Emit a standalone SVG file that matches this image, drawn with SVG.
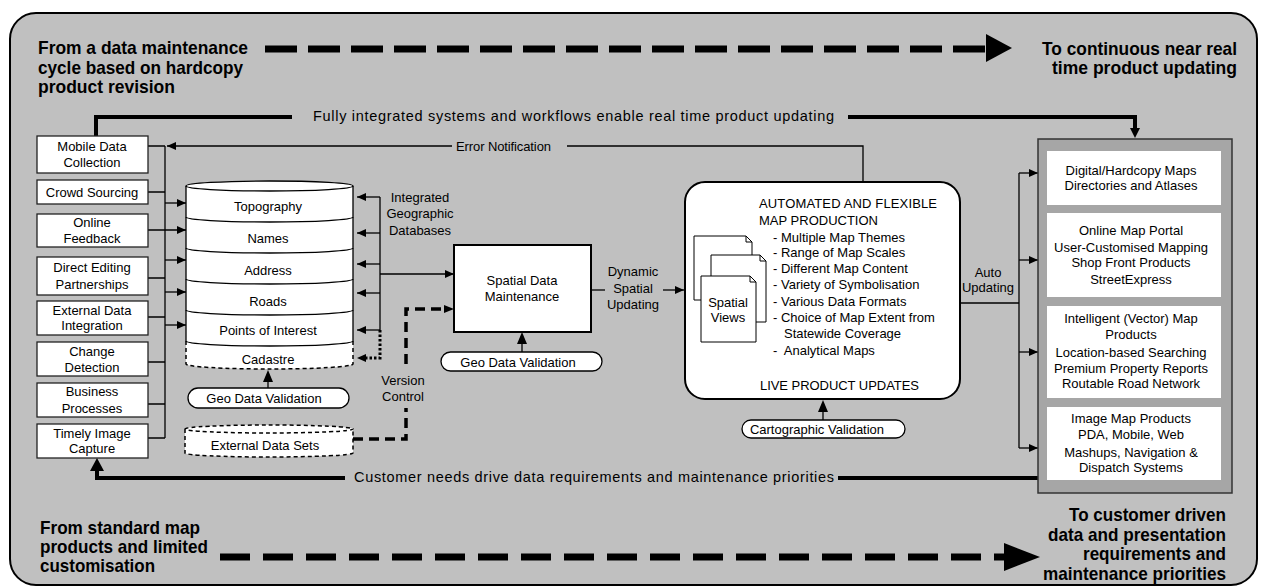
<svg xmlns="http://www.w3.org/2000/svg" width="1264" height="588" viewBox="0 0 1264 588">
<defs>
<style>
.t{font-family:"Liberation Sans",Arial,sans-serif;font-size:13px;fill:#000;text-anchor:middle}
.ts{font-family:"Liberation Sans",Arial,sans-serif;font-size:13px;fill:#000}
.tl{font-family:"Liberation Sans",Arial,sans-serif;font-size:14.5px;fill:#000}
.h{font-family:"Liberation Sans",Arial,sans-serif;font-size:18.5px;font-weight:bold;fill:#000}
.box{fill:#fff;stroke:#222;stroke-width:1.3}
.ln{fill:none;stroke:#000;stroke-width:1.3}
.thick{fill:none;stroke:#000;stroke-width:4}
.dash{fill:none;stroke:#000;stroke-width:3.5;stroke-dasharray:10 6}
.dot{fill:none;stroke:#000;stroke-width:3;stroke-dasharray:2.5 2}
.pill{fill:#fff;stroke:#000;stroke-width:1.3}
.page{fill:#fff;stroke:#000;stroke-width:1}
</style>
<marker id="ah" markerUnits="userSpaceOnUse" markerWidth="9" markerHeight="8" refX="9" refY="4" orient="auto">
<path d="M0,0 L9,4 L0,8 z" fill="#000"/>
</marker>
<marker id="ahb" markerUnits="userSpaceOnUse" markerWidth="10" markerHeight="11" refX="11" refY="5" orient="auto" viewBox="0 0 11 10">
<path d="M0,0 L11,5 L0,10 z" fill="#000"/>
</marker>
</defs>

<rect id="panel" x="10" y="13" width="1247" height="572" rx="26" fill="#c0c0c0" stroke="#000" stroke-width="2"/>

<g id="headers">
<text class="h" x="38" y="54" textLength="210" lengthAdjust="spacingAndGlyphs">From a data maintenance</text>
<text class="h" x="38" y="74" textLength="205" lengthAdjust="spacingAndGlyphs">cycle based on hardcopy</text>
<text class="h" x="38" y="93" textLength="137" lengthAdjust="spacingAndGlyphs">product revision</text>
<text class="h" x="1042" y="55" textLength="195" lengthAdjust="spacingAndGlyphs">To continuous near real</text>
<text class="h" x="1052" y="74" textLength="185" lengthAdjust="spacingAndGlyphs">time product updating</text>
<text class="h" x="40" y="534" textLength="160" lengthAdjust="spacingAndGlyphs">From standard map</text>
<text class="h" x="40" y="553" textLength="168" lengthAdjust="spacingAndGlyphs">products and limited</text>
<text class="h" x="40" y="572" textLength="115" lengthAdjust="spacingAndGlyphs">customisation</text>
<text class="h" x="1069" y="521" textLength="157" lengthAdjust="spacingAndGlyphs">To customer driven</text>
<text class="h" x="1048" y="541" textLength="178" lengthAdjust="spacingAndGlyphs">data and presentation</text>
<text class="h" x="1083" y="560" textLength="143" lengthAdjust="spacingAndGlyphs">requirements and</text>
<text class="h" x="1043" y="580" textLength="183" lengthAdjust="spacingAndGlyphs">maintenance priorities</text>
</g>

<g id="connectors">
<!-- top and bottom dashed progress arrows -->
<path d="M265,49 H987" fill="none" stroke="#000" stroke-width="7" stroke-dasharray="32 11"/>
<path d="M986,34 L1012,48 L986,62 z" fill="#000"/>
<path d="M220,557 H1006" fill="none" stroke="#000" stroke-width="7" stroke-dasharray="30 13"/>
<path d="M1004,543 L1040,557 L1004,571 z" fill="#000"/>

<!-- fully integrated line -->
<path class="thick" d="M96,137 V117 H292"/>
<path class="thick" d="M848,117 H1135 V129"/>
<path d="M1130,128 L1135,138 L1140,128 z" fill="#000"/>
<text class="tl" x="313" y="121" textLength="521" lengthAdjust="spacing">Fully integrated systems and workflows enable real time product updating</text>

<!-- customer needs line -->
<path class="thick" d="M1038,478 H838"/>
<path class="thick" d="M345,478 H97 V469"/>
<path d="M90,471 L97,458 L104,471 z" fill="#000"/>
<text class="tl" x="354" y="482" textLength="480" lengthAdjust="spacing">Customer needs drive data requirements and maintenance priorities</text>

<!-- error notification -->
<path class="ln" d="M863,182 V146 H567"/>
<path class="ln" d="M452,146 H167" marker-end="url(#ah)"/>
<text class="ts" x="456" y="150.5" textLength="95" lengthAdjust="spacing">Error Notification</text>

<!-- left bus -->
<path class="ln" d="M165,146 V438"/>
<path class="ln" d="M148,146 H165 M148,192 H165 M148,278 H165 M148,317 H165 M148,362 H165 M148,404 H165 M148,438 H165"/>
<path class="ln" d="M148,230 H186" marker-end="url(#ah)"/>
<path class="ln" d="M165,203 H186" marker-end="url(#ah)"/>
<path class="ln" d="M165,260 H186" marker-end="url(#ah)"/>
<path class="ln" d="M165,292 H186" marker-end="url(#ah)"/>
<path class="ln" d="M165,325 H186" marker-end="url(#ah)"/>

<!-- right side of database -->
<path class="ln" d="M380,197 V330"/>
<path class="ln" d="M380,197 H357" marker-end="url(#ah)"/>
<path class="ln" d="M380,233 H357" marker-end="url(#ah)"/>
<path class="ln" d="M380,264 H357" marker-end="url(#ah)"/>
<path class="ln" d="M380,293 H357" marker-end="url(#ah)"/>
<path class="ln" d="M380,330 H357" marker-end="url(#ah)"/>
<path class="dot" d="M380,330 V358 H366"/>
<path d="M366,354 L357,358 L366,362 z" fill="#000"/>
<path class="ln" d="M380,274 H454" marker-end="url(#ah)"/>
<text class="t" x="420" y="202">Integrated</text>
<text class="t" x="420" y="218">Geographic</text>
<text class="t" x="420" y="235">Databases</text>

<!-- version control -->
<path class="dash" d="M353,439 H406 V408"/>
<path class="dash" d="M406,364 V309 H445"/>
<path d="M444,305 L454,309 L444,313 z" fill="#000"/>
<text class="t" x="403" y="385">Version</text>
<text class="t" x="403" y="401">Control</text>

<!-- dynamic spatial updating -->
<path class="ln" d="M591,290 H605"/>
<path class="ln" d="M663,290 H684" marker-end="url(#ah)"/>
<text class="t" x="633" y="276">Dynamic</text>
<text class="t" x="633" y="293">Spatial</text>
<text class="t" x="633" y="309">Updating</text>

<!-- validation arrows -->
<path class="ln" d="M268,388 V380" stroke-width="2"/>
<path d="M263,382 L268,370 L273,382 z" fill="#000"/>
<path class="ln" d="M522,352 V342" stroke-width="2"/>
<path d="M517,344 L522,332 L527,344 z" fill="#000"/>
<path class="ln" d="M823,420 V411" stroke-width="2"/>
<path d="M818,412 L823,400 L828,412 z" fill="#000"/>

<!-- auto updating -->
<path class="ln" d="M960,303 H1019"/>
<path class="ln" d="M1019,173 V448"/>
<path class="ln" d="M1019,173 H1038" marker-end="url(#ah)"/>
<path class="ln" d="M1019,260 H1038" marker-end="url(#ah)"/>
<path class="ln" d="M1019,352 H1038" marker-end="url(#ah)"/>
<path class="ln" d="M1019,448 H1038" marker-end="url(#ah)"/>
<text class="t" x="988" y="277">Auto</text>
<text class="t" x="988" y="292">Updating</text>
</g>

<g id="sources">
<g id="n-mobile"><rect class="box" x="37" y="136" width="111" height="37"/><text class="t" x="92" y="151">Mobile Data</text><text class="t" x="92" y="167">Collection</text></g>
<g id="n-crowd"><rect class="box" x="37" y="180" width="111" height="24"/><text class="t" x="92" y="197">Crowd Sourcing</text></g>
<g id="n-online"><rect class="box" x="37" y="214" width="111" height="33"/><text class="t" x="92" y="227">Online</text><text class="t" x="92" y="243">Feedback</text></g>
<g id="n-direct"><rect class="box" x="37" y="257" width="111" height="38"/><text class="t" x="92" y="272">Direct Editing</text><text class="t" x="92" y="289">Partnerships</text></g>
<g id="n-external"><rect class="box" x="37" y="301" width="111" height="34"/><text class="t" x="92" y="315">External Data</text><text class="t" x="92" y="330">Integration</text></g>
<g id="n-change"><rect class="box" x="37" y="342" width="111" height="34"/><text class="t" x="92" y="356">Change</text><text class="t" x="92" y="372">Detection</text></g>
<g id="n-business"><rect class="box" x="37" y="383" width="111" height="34"/><text class="t" x="92" y="396">Business</text><text class="t" x="92" y="413">Processes</text></g>
<g id="n-timely"><rect class="box" x="37" y="424" width="111" height="34"/><text class="t" x="92" y="438">Timely Image</text><text class="t" x="92" y="453">Capture</text></g>
</g>

<g id="n-database">
<path d="M186,186 A83.5,5 0 0,1 353,186 V364 A83.5,5 0 0,1 186,364 Z" fill="#fff" stroke="none"/>
<ellipse cx="269.5" cy="186" rx="83.5" ry="5" fill="#fff" stroke="#000" stroke-width="1.3"/>
<path class="ln" d="M186,186 V341 M353,186 V341"/>
<path class="ln" d="M186,217 A83.5,5 0 0,0 353,217 M186,248 A83.5,5 0 0,0 353,248 M186,279 A83.5,5 0 0,0 353,279 M186,310 A83.5,5 0 0,0 353,310 M186,341 A83.5,5 0 0,0 353,341"/>
<path d="M186,341 V364 A83.5,5 0 0,0 353,364 V341" fill="none" stroke="#000" stroke-width="1.5" stroke-dasharray="4 3"/>
<text class="t" x="268" y="211">Topography</text>
<text class="t" x="268" y="243">Names</text>
<text class="t" x="268" y="275">Address</text>
<text class="t" x="268" y="306">Roads</text>
<text class="t" x="268" y="335">Points of Interest</text>
<text class="t" x="268" y="364">Cadastre</text>
</g>

<g id="n-geoval1"><rect class="pill" x="188" y="388" width="161" height="20" rx="10"/><text class="t" x="264" y="403">Geo Data Validation</text></g>

<g id="n-extdata">
<path d="M185,429 A84,4 0 0,1 353,429 V453 A84,4 0 0,1 185,453 Z" fill="#fff" stroke="none"/>
<path d="M185,429 A84,4 0 0,1 353,429 A84,4 0 0,1 185,429 Z M185,429 V453 A84,4 0 0,0 353,453 V429" fill="none" stroke="#000" stroke-width="1.5" stroke-dasharray="4 3"/>
<text class="t" x="265" y="450">External Data Sets</text>
</g>

<g id="n-sdm"><rect x="454" y="245" width="137" height="87" fill="#fff" stroke="#000" stroke-width="2"/><text class="t" x="522" y="285">Spatial Data</text><text class="t" x="522" y="301">Maintenance</text></g>

<g id="n-geoval2"><rect class="pill" x="441" y="352" width="161" height="19" rx="9.5"/><text class="t" x="518" y="366.5">Geo Data Validation</text></g>

<g id="n-mapprod">
<rect x="685" y="182" width="275" height="217" rx="20" fill="#fff" stroke="#000" stroke-width="2"/>
<text class="ts" x="759" y="208" textLength="178" lengthAdjust="spacing">AUTOMATED AND FLEXIBLE</text>
<text class="ts" x="759" y="225" textLength="119" lengthAdjust="spacing">MAP PRODUCTION</text>
<text class="ts" x="773" y="242">- Multiple Map Themes</text>
<text class="ts" x="773" y="257">- Range of Map Scales</text>
<text class="ts" x="773" y="273">- Different Map Content</text>
<text class="ts" x="773" y="289">- Variety of Symbolisation</text>
<text class="ts" x="773" y="306">- Various Data Formats</text>
<text class="ts" x="773" y="322">- Choice of Map Extent from</text>
<text class="ts" x="784" y="338">Statewide Coverage</text>
<text class="ts" x="773" y="355" style="white-space:pre">-  Analytical Maps</text>
<text class="ts" x="760" y="390" textLength="159" lengthAdjust="spacing">LIVE PRODUCT UPDATES</text>
<g id="n-views">
<path class="page" d="M694,236 H746 L752,242 V300 H694 Z M746,236 V242 H752"/>
<path class="page" d="M711,255 H760 L766,261 V322 H711 Z M760,255 V261 H766"/>
<path class="page" d="M701,276 H750 L756,282 V342 H701 Z M750,276 V282 H756"/>
<text class="t" x="728" y="307">Spatial</text>
<text class="t" x="728" y="322">Views</text>
</g>
</g>

<g id="n-cartoval"><rect class="pill" x="742" y="420" width="163" height="18" rx="9"/><text class="t" x="817" y="433.5">Cartographic Validation</text></g>

<g id="n-products">
<rect x="1038" y="139" width="194" height="354" fill="#a6a6a6" stroke="#333" stroke-width="1.5"/>
<g id="n-prod1"><rect x="1047" y="151" width="174" height="54" fill="#fff"/>
<text class="t" x="1131" y="175">Digital/Hardcopy Maps</text><text class="t" x="1131" y="190">Directories and Atlases</text></g>
<g id="n-prod2"><rect x="1047" y="213" width="174" height="84" fill="#fff"/>
<text class="t" x="1131" y="235">Online Map Portal</text><text class="t" x="1131" y="252">User-Customised Mapping</text><text class="t" x="1131" y="267">Shop Front Products</text><text class="t" x="1131" y="284">StreetExpress</text></g>
<g id="n-prod3"><rect x="1047" y="306" width="174" height="92" fill="#fff"/>
<text class="t" x="1131" y="323">Intelligent (Vector) Map</text><text class="t" x="1131" y="339">Products</text><text class="t" x="1131" y="357">Location-based Searching</text><text class="t" x="1131" y="373">Premium Property Reports</text><text class="t" x="1131" y="388">Routable Road Network</text></g>
<g id="n-prod4"><rect x="1047" y="407" width="174" height="73" fill="#fff"/>
<text class="t" x="1131" y="423">Image Map Products</text><text class="t" x="1131" y="439">PDA, Mobile, Web</text><text class="t" x="1131" y="457">Mashups, Navigation &amp;</text><text class="t" x="1131" y="472">Dispatch Systems</text></g>
</g>
</svg>
